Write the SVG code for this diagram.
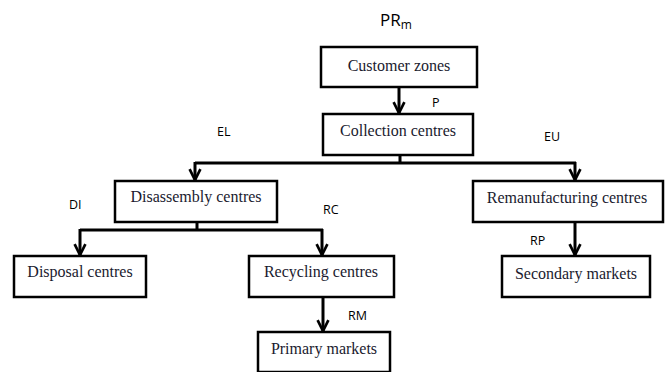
<svg xmlns="http://www.w3.org/2000/svg" width="665" height="372" viewBox="0 0 665 372">
<style>
.box{fill:#fff;stroke:#000;stroke-width:2.5}
.t{font-family:"Liberation Serif","Times New Roman",serif;font-size:16px;fill:#1a1a2e;text-anchor:middle}
.l{font-family:"Open Sans","Liberation Sans",sans-serif;font-size:12.5px;fill:#000}
.c{fill:none;stroke:#000;stroke-width:3}
</style>
<defs>
<marker id="a" viewBox="0 0 10 10" refX="9" refY="5" markerWidth="4.5" markerHeight="4.5" orient="auto" markerUnits="strokeWidth">
<path d="M1,1 L9,5 L1,9" fill="none" stroke="#000" stroke-width="2"/>
</marker>
</defs>
<rect width="665" height="372" fill="#fff"/>
<g id="connectors">
<path class="c" d="M399,88 V113" marker-end="url(#a)"/>
<path class="c" d="M400,155 V163 M195,163 H576"/>
<path class="c" d="M195,162 V180" marker-end="url(#a)"/>
<path class="c" d="M575,162 V180" marker-end="url(#a)"/>
<path class="c" d="M197,222 V230 M80,230 H323"/>
<path class="c" d="M80,229 V255" marker-end="url(#a)"/>
<path class="c" d="M322,229 V255" marker-end="url(#a)"/>
<path class="c" d="M323,297 V331" marker-end="url(#a)"/>
<path class="c" d="M575,222 V255" marker-end="url(#a)"/>
</g>
<g id="customer-zones"><rect class="box" x="321" y="47" width="156" height="40"/><text class="t" x="399" y="71">Customer zones</text></g>
<g id="collection-centres"><rect class="box" x="323" y="114" width="150" height="41"/><text class="t" x="398" y="136">Collection centres</text></g>
<g id="disassembly-centres"><rect class="box" x="115" y="181" width="162" height="41"/><text class="t" x="196" y="202">Disassembly centres</text></g>
<g id="remanufacturing-centres"><rect class="box" x="473" y="181" width="190" height="41"/><text class="t" x="567" y="203">Remanufacturing centres</text></g>
<g id="disposal-centres"><rect class="box" x="14" y="256" width="132" height="41"/><text class="t" x="80" y="277">Disposal centres</text></g>
<g id="recycling-centres"><rect class="box" x="249" y="256" width="145" height="41"/><text class="t" x="321" y="277">Recycling centres</text></g>
<g id="secondary-markets"><rect class="box" x="502" y="256" width="148" height="41"/><text class="t" x="576" y="279">Secondary markets</text></g>
<g id="primary-markets"><rect class="box" x="258" y="332" width="132" height="40"/><text class="t" x="324" y="354">Primary markets</text></g>
<g id="labels">
<text class="l" x="380" y="26" style="font-size:17px">PR<tspan font-size="12" dy="3">m</tspan></text>
<text class="l" x="432" y="107">P</text>
<text class="l" x="217" y="136">EL</text>
<text class="l" x="544" y="141">EU</text>
<text class="l" x="69" y="209">DI</text>
<text class="l" x="323" y="214">RC</text>
<text class="l" x="530" y="245">RP</text>
<text class="l" x="348" y="320">RM</text>
</g>
</svg>
